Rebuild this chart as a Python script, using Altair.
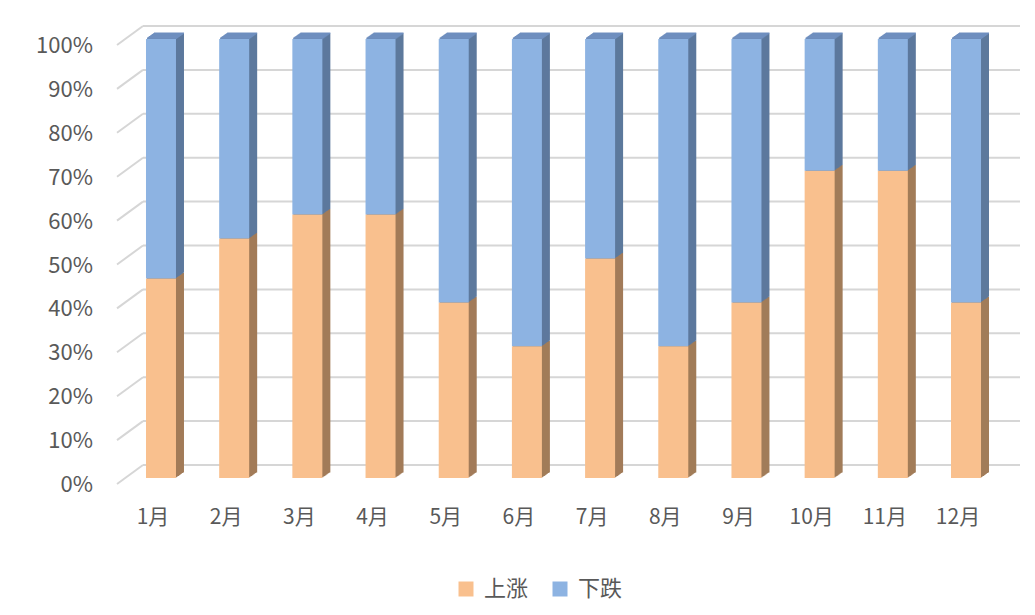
import altair as alt
import pandas as pd

months = ["1月", "2月", "3月", "4月", "5月", "6月", "7月", "8月", "9月", "10月", "11月", "12月"]
up_counts = [5, 6, 6, 6, 4, 3, 5, 3, 4, 7, 7, 4]
down_counts = [6, 5, 4, 4, 6, 7, 5, 7, 6, 3, 3, 6]
series_names = ["上涨", "下跌"]
tick_values = [0.0, 0.1, 0.2, 0.3, 0.4, 0.5, 0.6, 0.7, 0.8, 0.9, 1.0]
tick_labels = ["0%", "10%", "20%", "30%", "40%", "50%", "60%", "70%", "80%", "90%", "100%"]

FRONT = {"上涨": "#F9C08E", "下跌": "#8DB3E2"}
SIDE = {"上涨": "#A27C59", "下跌": "#5D799D"}
TOP = "#6F8FBF"
FONT = "Noto Sans CJK SC"
TEXT = "#595959"
GRID = "#D6D6D6"

rows = []
for m, u, d in zip(months, up_counts, down_counts):
    share = u / (u + d)
    rows.append({"month": m, "series": series_names[0], "lo": 0.0, "hi": share})
    rows.append({"month": m, "series": series_names[1], "lo": share, "hi": 1.0})
df = pd.DataFrame(rows)
ticks = pd.DataFrame({"t": tick_values, "label": tick_labels})

yscale = alt.Scale(domain=[0, 1], range=[470, 31])
xscale = alt.Scale(domain=months, range=[116.4, 994.6], paddingInner=0, paddingOuter=0)

X = alt.X("month:N", scale=xscale, sort=months, axis=None)
Y = alt.Y("lo:Q", scale=yscale, axis=None)

layers = []

# back wall gridlines
layers.append(
    alt.Chart(ticks).mark_rule(color=GRID, strokeWidth=2, yOffset=-13).encode(
        x=alt.value(135), x2=alt.value(1012),
        y=alt.Y("t:Q", scale=yscale, axis=None),
    )
)
# side diagonals
layers.append(
    alt.Chart(ticks).mark_rule(color=GRID, strokeWidth=2, yOffset=6, y2Offset=-13).encode(
        x=alt.value(109), x2=alt.value(135),
        y=alt.Y("t:Q", scale=yscale, axis=None), y2="t:Q",
    )
)

# y tick labels
layers.append(
    alt.Chart(ticks).mark_text(align="right", baseline="middle", font=FONT, fontSize=22,
                               color=TEXT, yOffset=7).encode(
        x=alt.value(85),
        y=alt.Y("t:Q", scale=yscale, axis=None),
        text="label:N",
    )
)

K = 8
DY = 0.7
# side extrusion (drawn back to front)
for k in range(K, 0, -1):
    for s in series_names:
        layers.append(
            alt.Chart(df).transform_filter(alt.datum.series == s).mark_bar(
                width=30, xOffset=k, x2Offset=k, yOffset=-DY * k, y2Offset=-DY * k,
                color=SIDE[s],
            ).encode(x=X, y=Y, y2="hi:Q")
        )
# top face strips
for k in range(K, 0, -1):
    layers.append(
        alt.Chart(df).transform_filter(alt.datum.series == series_names[1]).mark_bar(
            width=30, xOffset=k, x2Offset=k, yOffset=-DY * k - 0.9, y2Offset=-DY * k + 0.6,
            color=TOP,
        ).encode(x=X, y=alt.Y("hi:Q", scale=yscale, axis=None), y2="hi:Q")
    )

# front faces with legend
layers.append(
    alt.Chart(df).mark_bar(width=30).encode(
        x=X, y=Y, y2="hi:Q",
        color=alt.Color(
            "series:N",
            scale=alt.Scale(domain=series_names, range=[FRONT[s] for s in series_names]),
            legend=alt.Legend(
                title=None, orient="none", legendX=447, legendY=570, direction="horizontal",
                symbolType="square", symbolSize=225, symbolStrokeWidth=0,
                labelFont=FONT, labelFontSize=22, labelColor=TEXT, labelOffset=7,
                columnPadding=20, padding=0,
            ),
        ),
    )
)

# month labels
layers.append(
    alt.Chart(pd.DataFrame({"month": months})).mark_text(
        align="center", baseline="middle", font=FONT, fontSize=21, color=TEXT, dx=-8,
    ).encode(x=X, y=alt.value(510), text="month:N")
)

chart = alt.layer(*layers).properties(
    width=1019, height=599, autosize=alt.AutoSizeParams(type="none"), padding=0,
).configure_view(stroke=None)

chart.save("out.html", embed_options={"renderer": "svg", "actions": False})
